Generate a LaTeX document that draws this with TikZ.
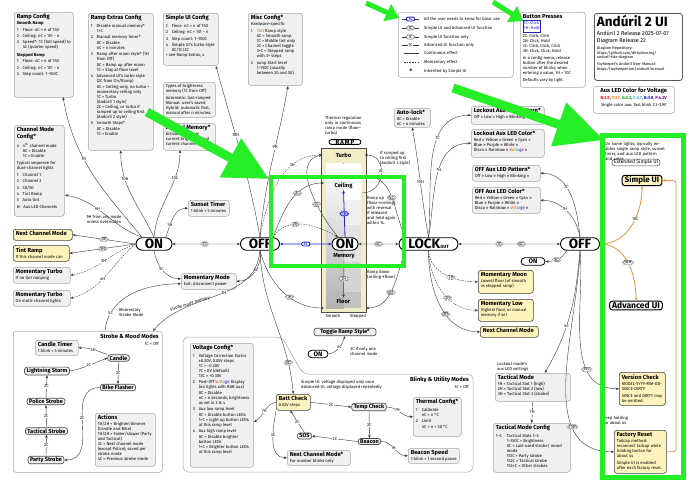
\documentclass[tikz,border=0pt]{standalone}
\usepackage{fontspec}
\setmainfont{Fira Sans}
\usetikzlibrary{arrows.meta,calc,shapes.misc}
\definecolor{ylw}{HTML}{FFF3BD}
\definecolor{gbg}{HTML}{F0F0F0}
\definecolor{gbd}{HTML}{A6A6A6}
\definecolor{grn}{HTML}{26EE26}
\definecolor{org}{HTML}{E8943A}
\definecolor{blu}{HTML}{2323C8}
\definecolor{lnc}{HTML}{3A3A3A}
\definecolor{pnl}{HTML}{F3EDC6}
\newcommand\xfs{\fontsize{4.2}{5}\selectfont}
\newcommand\xft{\fontsize{5.8}{6.8}\selectfont\bfseries}
\newcommand\xttl[1]{{\xft #1\par}\vspace{1pt}}
\newcommand\xitm[2]{\par\vspace{1.4pt}\hangindent=6pt\hangafter=1\noindent\makebox[6pt][l]{#1}#2\par}
\newcommand\xitmw[2]{\par\vspace{1.4pt}\hangindent=11pt\hangafter=1\noindent\makebox[11pt][l]{#1}#2\par}
\newcommand\xind[1]{\par\vspace{0.5pt}{\leftskip=6pt\noindent#1\par}}
\newcommand\xindw[1]{\par\vspace{0.5pt}{\leftskip=11pt\noindent#1\par}}
\newcommand\xbx[3]{\parbox[c][#2][t]{#1}{\raggedright\xfs #3}}
\newcommand\xrbw{{\color{red}V}{\color{orange}o}{\color{olive}l}{\color{green!55!black}t}{\color{cyan!70!black}a}{\color{blue}g}{\color{violet}e}}
\begin{document}
\begin{tikzpicture}[x=1pt,y=-1pt,font=\xfs]
\tikzset{
 box/.style={draw=gbd, fill=gbg, rounded corners=2.5pt, line width=0.5pt, inner xsep=2.5pt, inner ysep=2pt, align=left, anchor=north west, font=\xfs},
 wbox/.style={box, fill=white},
 ybox/.style={box, draw=black!75, fill=ylw, line width=0.6pt},
 gnode/.style={draw=black!70, fill=gbg, line width=0.7pt, rounded corners=2.5pt, inner xsep=2pt, inner ysep=1pt, font=\fontsize{5.6}{6}\selectfont\bfseries},
 state/.style={draw=black, line width=0.9pt, rounded rectangle, fill=white, font=\fontsize{13.5}{13.5}\selectfont\bfseries, inner xsep=3pt, inner ysep=0pt, minimum height=12.5pt},
 sstate/.style={draw=black, line width=0.8pt, rounded rectangle, fill=white, font=\fontsize{6.5}{7}\selectfont\bfseries, inner xsep=2pt, inner ysep=0pt, minimum height=7.5pt},
 lc/.style={draw=black!65, double=white, double distance=0.45pt, line width=0.3pt, rounded rectangle, fill=white, inner xsep=1pt, inner ysep=0.4pt, font=\xfs},
 ls/.style={draw=black!65, line width=0.4pt, rounded rectangle, fill=white, inner xsep=1.2pt, inner ysep=0.6pt, font=\xfs},
 lb/.style={draw=blu, line width=0.9pt, rounded rectangle, fill=white, text=blu, inner xsep=1.3pt, inner ysep=0.5pt, font=\xfs\bfseries},
 lt/.style={fill=white, inner sep=0.5pt, font=\xfs},
 arr/.style={-{Stealth[length=3.2pt,width=2.6pt]}, draw=lnc, line width=0.4pt},
 darr/.style={arr, {Stealth[length=3.2pt,width=2.6pt]}-{Stealth[length=3.2pt,width=2.6pt]}},
 dsh/.style={arr, dash pattern=on 1.6pt off 1.1pt},
 barr/.style={darr, draw=blu, line width=0.8pt},
 bsarr/.style={arr, draw=blu, line width=0.8pt},
 oarr/.style={arr, draw=org, line width=0.8pt},
 note/.style={anchor=north west, align=left, inner sep=0pt, font=\xfs},
}
\fill[white] (0,0) rectangle (690,488);
\path[use as bounding box] (0,0) rectangle (690,488);
% ================= config boxes =================
\node[box] (rampcfg) at (14,12) {\xbx{54pt}{81pt}{\xttl{Ramp Config}{\bfseries Smooth Ramp\par}\xitm{1}{Floor: nC = n of 150}\xitm{2}{Ceiling: nC = 151 − n}\xitm{3}{Speed*: 1C (full speed) to 4C (quarter speed)}\vspace{2.5pt}{\bfseries Stepped Ramp\par}\xitm{1}{Floor: nC = n of 150}\xitm{2}{Ceiling: nC = 151 − n}\xitm{3}{Step count: 1–150C}}};
\node[box] (rampext) at (88,13) {\xbx{60pt}{133pt}{\xttl{Ramp Extras Config}\xitm{1}{Disable manual memory*}\xind{1+C}\xitm{2}{Manual memory timer*}\xind{0C = Disable\\nC = n minutes}\xitm{3}{Ramp after moon style* (1H from Off)}\xind{0C = Ramp up after moon\\1C = Stay at floor level}\xitm{4}{Advanced UI's turbo style (2C from On/Ramp)}\xind{0C = Ceiling only, no turbo + momentary ceiling only\\1C = Turbo\\(Andúril 1 style)\\2C = Ceiling, or turbo if ramped up to ceiling first (Andúril 2 style)}\xitm{5}{Smooth Steps*}\xind{0C = Disable\\1C = Enable}}};
\node[box] (suicfg) at (163,13) {\xbx{50pt}{48pt}{\xttl{Simple UI Config}\xitm{1}{Floor: nC = n of 150}\xitm{2}{Ceiling: nC = 151 − n}\xitm{3}{Step count: 1–150C}\xitm{4}{Simple UI's turbo style 0C/1C/2C\\+ see Ramp Extras, 4}}};
\node[box] (misc) at (248,13) {\xbx{49pt}{68pt}{\xttl{Misc Config*}Hardware-specific\xitm{1}{{\color{orange!80!black}Tint} Ramp style}\xind{0C = Smooth ramp\\1C = Middle tint only\\2C = Channel toggle\\3+C = Stepped ramp with 3+ steps}\xitm{2}{Jump Start level}\xind{1–150C (usually between 20 and 50)}}};
\node[box] (types) at (163,82) {\xbx{47pt}{31pt}{Types of brightness memory (1C from Off)\par\vspace{1.5pt}Automatic: last-ramped\\Manual: user's saved\\Hybrid: automatic first, manual after n minutes.}};
\node[box] (manmem) at (163,123) {\xbx{47pt}{23pt}{\xttl{Manual Memory*}Activate and save current brightness and current channel mode}};
\node[box] (chancfg) at (14,125) {\xbx{45pt}{87pt}{\xttl{Channel Mode Config*}\xitm{n}{n\textsuperscript{th} channel mode}\xind{0C = Disable\\1C = Enable}\vspace{2pt}Typical sequence for dual-channel lights\xitm{1}{Channel 1}\xitm{2}{Channel 2}\xitm{3}{50/50}\xitm{4}{Tint Ramp}\xitm{5}{Auto tint}\xitm{6+}{\,Aux LED Channels}}};
% ================= legend / info =================
\node[wbox, minimum width=115pt, minimum height=65pt] (legend) at (398,12) {};
\draw[lnc, line width=0.4pt] (402,19) -- (419,19);
\node[lb] (lg1) at (410.5,19) {1C};
\node[anchor=west, inner sep=0] (lgt1) at (424,19) {All the user needs to know for basic use};
\draw[lnc, line width=0.4pt] (402,28) -- (419,28);
\node[lc] (lg2) at (410.5,28) {1C};
\node[anchor=west, inner sep=0] (lgt2) at (424,28) {Simple UI and Advanced UI function};
\draw[lnc, line width=0.4pt] (402,37) -- (419,37);
\node[ls] (lg3) at (410.5,37) {1C};
\node[anchor=west, inner sep=0] (lgt3) at (424,37) {Simple UI function only};
\draw[lnc, line width=0.4pt] (402,45) -- (419,45);
\node[lt] (lg4) at (410.5,45) {1C};
\node[anchor=west, inner sep=0] (lgt4) at (424,45) {Advanced UI function only};
\draw[lnc, line width=0.5pt] (404,53) -- (419,53);
\node[anchor=west, inner sep=0] (lgt5) at (424,53) {Continuous effect};
\draw[lnc, line width=0.5pt, dash pattern=on 1.6pt off 1.1pt] (404,62) -- (419,62);
\node[anchor=west, inner sep=0] (lgt6) at (424,62) {Momentary effect};
\node[font=\fontsize{6}{6}\selectfont\bfseries] (lg7) at (411,71.5) {*};
\node[anchor=west, inner sep=0] (lgt7) at (424,71) {Inherited by Simple UI};
\node[wbox] (btn) at (520,12) {\xbx{60pt}{71pt}{\xttl{Button Presses}{\setlength\fboxsep{0.6pt}\setlength\fboxrule{0.5pt}\fcolorbox{blu}{white}{\color{blu}\begin{tabular}{@{}l@{}}1C: Click\\1H: Hold\end{tabular}}\par}\vspace{0.3pt}2C: Click, Click\\2H: Click, Hold\\3C: Click, Click, Click\\3H: Click, Click, Hold\par\vspace{2pt}In a config menu, release button after the desired number of blinks; when entering a value, 1H = 10C\par\vspace{2pt}Defaults vary by light.}};
\node[wbox, draw=black!65, line width=0.8pt] (title) at (594,13) {\xbx{83pt}{63pt}{{\fontsize{13.5}{15}\selectfont\bfseries Andúril 2 UI\par}\vspace{2.5pt}{\fontsize{5.6}{6.6}\selectfont Andúril 2 Release 2025-07-07\\Diagram Release 22\par}\vspace{3pt}{\fontsize{3.9}{4.4}\selectfont Diagram Repository:\\https://github.com/dirtydancing/\\anduril-tikz-diagram\par\vspace{3pt}ToyKeeper's Andúril User Manual:\\https://toykeeper.net/anduril/manual\par}}};
\node[wbox] (auxv) at (593,86) {\xbx{76pt}{23pt}{\centering{\xft Aux LED Color for Voltage\par}\vspace{1.5pt}{\bfseries\color{red}R:2.9}, {\bfseries\color{orange!90!black}Y:3.1}, {\bfseries\color{green!60!black}G:3.3}, {\bfseries\color{cyan!80!black}C:3.7}, {\bfseries\color{blue}B:3.9}, {\bfseries\color{violet}P:4.2V}\par\vspace{2pt}Single color aux: fast blink 3.1–3.9V}};
% ================= right-top boxes =================
\node[box] (autolock) at (394,108) {\xbx{31pt}{15pt}{\xttl{Auto-lock*}0C = Disable\\nC = n minutes}};
\node[box] (lap) at (471,106) {\xbx{68pt}{14pt}{\xttl{Lockout Aux LED Pattern*}Off » Low » High » Blinking »}};
\node[box] (lac) at (471,129) {\xbx{68pt}{24pt}{\xttl{Lockout Aux LED Color*}Red » Yellow » Green » Cyan »\\Blue » Purple » White »\\Disco » Rainbow » \xrbw{} »}};
\node[box] (oap) at (472,165) {\xbx{63pt}{12pt}{\xttl{OFF Aux LED Pattern*}Off » Low » High » Blinking »}};
\node[box] (oac) at (472,187) {\xbx{63pt}{22pt}{\xttl{OFF Aux LED Color*}Red » Yellow » Green » Cyan »\\Blue » Purple » White »\\Disco » Rainbow » \xrbw{} »}};
% ================= left side boxes =================
\node[box] (sunset) at (188,200) {\xbx{36pt}{12pt}{\xttl{Sunset Timer}1 blink = 5 minutes}};
\node[box] (mommode) at (181,273) {\xbx{50pt}{12pt}{\xttl{Momentary Mode}Exit: disconnect power}};
\node[ybox] (ncm1) at (13,229) {\xbx{54pt}{7pt}{\xft Next Channel Mode}};
\node[ybox] (tint) at (13,245) {\xbx{51pt}{12pt}{\xttl{Tint Ramp}If this channel mode can}};
\node[box] (mt1) at (13,267) {\xbx{52pt}{12pt}{\xttl{Momentary Turbo}If no tint ramping}};
\node[box] (mt2) at (13,290) {\xbx{52pt}{12pt}{\xttl{Momentary Turbo}On multi-channel lights}};
\node[note, align=center, anchor=north] (n9h) at (104,215.5) {9H from any mode\\unless overridden};
% ================= strobe group =================
\node[wbox, minimum width=149pt, minimum height=141pt] (strobe) at (13,331) {};
\node[anchor=north east, font=\xft, inner sep=0] (strobet) at (159,334) {Strobe \& Mood Modes};
\node[anchor=north east, inner sep=0] (strobeoff) at (159,342) {1C = Off};
\node[box] (ctimer) at (35,340) {\xbx{38pt}{11pt}{\xttl{Candle Timer}1 blink = 5 minutes}};
\node[gnode] (candle) at (118.5,358) {Candle};
\node[gnode] (lightning) at (47,371) {Lightning Storm};
\node[gnode] (bike) at (118,387.5) {Bike Flasher};
\node[gnode] (police) at (46,401.5) {Police Strobe};
\node[gnode] (tacstr) at (46.5,431) {Tactical Strobe};
\node[gnode] (party) at (46,460) {Party Strobe};
\node[box] (actions) at (95,413) {\xbx{55pt}{49pt}{\xttl{Actions}1H/2H = Brighter/dimmer (Candle and Bike)\\1H/2H = Faster/slower (Party and Tactical)\\3C = Next channel mode (except Police), saved per strobe mode\\4C = Previous strobe mode}};
\draw[arr] (candle.north west) to[out=160,in=0] node[lt,pos=0.5]{5H} (ctimer.east);
\draw[arr] (lightning.east) to[out=10,in=200] node[lt,pos=0.5]{2C} (candle.west);
\draw[arr] (candle.south) -- node[lt]{2C} (bike.north);
\draw[arr] (bike.west) to[out=180,in=0,looseness=1.2] node[lt,pos=0.45]{2C} (party.east);
\draw[arr] (party.north) -- node[lt]{2C} (tacstr.south);
\draw[arr] (tacstr.north) -- node[lt]{2C} (police.south);
\draw[arr] (police.north) -- node[lt]{2C} (lightning.south);
% ================= blinky group =================
\draw[gbd, line width=0.5pt, fill=white, rounded corners=5pt] (183,337) -- (282,337) -- (303,374) -- (473,374) -- (473,472) -- (183,472) -- cycle;
\node[anchor=north east, font=\xft, inner sep=0] (blinkyt) at (469,377) {Blinky \& Utility Modes};
\node[anchor=north east, inner sep=0] (blinkyoff) at (469,385) {1C = Off};
\node[note] (vnote) at (301,380) {Simple UI: voltage displayed only once\\Advanced UI: voltage displayed repeatedly};
\node[box] (vcfg) at (190,343) {\xbx{58pt}{120pt}{\xttl{Voltage Config*}\xitm{1}{Voltage Correction Factor}\xind{±0.30V, 0.05V steps\\1C = −0.30V\\7C = 0V (default)\\13C = +0.30V}\xitm{2}{Post-Off \xrbw{} Display (on lights with RGB aux)}\xind{0C = Disable\\nC = n seconds; brightness as set in 3 \& 4}\xitm{3}{Aux low ramp level}\xind{0C = Disable button LEDs\\1+C = Light up button LEDs at this ramp level}\xitm{4}{Aux high ramp level}\xind{0C = Disable brighter button LEDs\\1+C = Brighter button LEDs at this ramp level}}};
\node[ybox] (batt) at (276,394) {\xbx{29pt}{12pt}{\xttl{Batt Check}0.02V steps}};
\node[box] (ncm3) at (287,450) {\xbx{58pt}{11pt}{\xttl{Next Channel Mode*}For number blinks only}};
\node[gnode] (sos) at (304.5,436) {SOS};
\node[gnode] (temp) at (369,407) {Temp Check};
\node[gnode] (beacon) at (369.5,441.5) {Beacon};
\node[box] (therm) at (413,397) {\xbx{43pt}{35pt}{\xttl{Thermal Config*}\xitm{1}{Calibrate}\xind{nC = n °C}\xitm{2}{Limit}\xind{nC = n + 30 °C}}};
\node[box] (bspeed) at (408,448) {\xbx{46pt}{11pt}{\xttl{Beacon Speed}1 blink = 1 second pause}};
\coordinate (cvc) at (254,422);
\draw[arr] (batt.west) to[out=190,in=30] node[lt,pos=0.5]{7H} (cvc);
\draw[arr] (batt.south west) to[out=-100,in=180] node[lt,pos=0.4]{3C} (ncm3.west);
\draw[arr] (sos.north) -- node[lt]{2C} ([xshift=-3pt]batt.south);
\draw[arr] (batt.east) -- node[lt]{2C} (temp.west);
\draw[arr] (temp.east) to[out=0,in=180] node[lt,pos=0.4]{7H} (therm.west);
\draw[arr] (temp.south) -- node[lt]{2C} (beacon.north);
\draw[arr] (beacon.west) -- node[lt]{2C} (sos.east);
\draw[arr] (beacon.east) to[out=0,in=180] node[lt,pos=0.45]{1H} (bspeed.west);
% ================= lockout side boxes =================
\node[ybox] (moon) at (478,270) {\xbx{50pt}{19pt}{\xttl{Momentary Moon}Lowest floor (of smooth vs stepped ramp)}};
\node[ybox] (low) at (478,299) {\xbx{50pt}{18pt}{\xttl{Momentary Low}Highest floor, or manual memory if set}};
\node[ybox] (ncm2) at (480,326) {\xbx{53pt}{7pt}{\xft Next Channel Mode}};
\node[note] (lmas) at (497,362) {Lockout mode's\\aux LED settings};
\node[box] (tact) at (495,373) {\xbx{70pt}{24pt}{\xttl{Tactical Mode}1H = Tactical Slot 1 (high)\\2H = Tactical Slot 2 (low)\\3H = Tactical Slot 3 (strobe)}};
\node[box] (tcfg) at (493,423) {\xbx{72pt}{45pt}{\xttl{Tactical Mode Config}\xitmw{1–3}{Tactical Slots 1–3}\xindw{1–150C = Brightness\\0C = Last-used strobe/ mood mode\\151C = Party strobe\\152C = Tactical strobe\\153+C = Other strobes}}};
\draw[arr] (tact.south) -- node[lt]{7H} (tcfg.north);
% ================= right column =================
\node[note, text width=60pt] (extnote) at (605,142) {On some lights; typically enables single ramp style, sunset timer, and aux LED pattern and color.};
\node[draw=black!70, line width=0.5pt, rounded corners=3pt, inner xsep=2pt, inner ysep=0.8pt, font=\fontsize{5}{5.5}\selectfont] (ext) at (636,162.5) {Extended Simple UI};
\node[draw=black, line width=1pt, fill=ylw, rounded corners=2.5pt, inner xsep=2.5pt, inner ysep=1pt, font=\fontsize{8}{9}\selectfont\bfseries] (sui) at (642,180.5) {Simple UI};
\node[draw=black, line width=1pt, fill=white, rounded corners=2.5pt, inner xsep=2.5pt, inner ysep=1pt, font=\fontsize{8.5}{9}\selectfont\bfseries] (adv) at (636,305.5) {Advanced UI};
\node[ybox] (ver) at (619,372) {\xbx{41pt}{29pt}{\xttl{Version Check}MODEL-YYYY-MM-DD-SINCE-DIRTY\par\vspace{2pt}SINCE and DIRTY may be omitted.}};
\node[ybox] (fac) at (614,430) {\xbx{47pt}{39pt}{\xttl{Factory Reset}Tailcap method: reconnect tailcap while holding button for about 4s\par\vspace{2pt}Simple UI is enabled after each factory reset.}};
\node[note] (khold) at (603,416) {keep holding\\for about 4s};
% ================= ramp panel =================
\node[note, text width=42pt] (thermal) at (325,116) {Thermal regulation only in continuous ramp mode (floor–turbo)};
\node[draw=black, line width=0.9pt, rounded rectangle, inner xsep=3pt, inner ysep=0.3pt, minimum width=38pt, font=\fontsize{6}{6}\selectfont\bfseries] (ramp) at (345,142) {R\,A\,M\,P};
\node[draw=black!70, fill=pnl, line width=0.6pt, minimum width=45pt, minimum height=164pt, anchor=north west, inner sep=0pt] (panel) at (321,148) {};
\fill[top color=white, bottom color=gray!60] (326,163) rectangle (343.5,308);
\fill[white] (343.5,163) rectangle (361,200);
\fill[gray!12] (343.5,200) rectangle (361,225);
\fill[gray!22] (343.5,225) rectangle (361,262);
\fill[gray!34] (343.5,262) rectangle (361,292);
\fill[gray!48] (343.5,292) rectangle (361,308);
\node[font=\xft, minimum width=42pt, inner sep=1pt] (turbo) at (343.5,155) {Turbo};
\node[font=\xft, inner sep=1pt] (ceil) at (343.5,186) {Ceiling};
\node[font=\xft, inner sep=1pt] (mem) at (344,256) {Memory};
\node[font=\xft, inner sep=1pt] (floor) at (343.5,301) {Floor};
\node[inner sep=0] (lsm) at (333,316) {Smooth};
\node[inner sep=0] (lst) at (358,316) {Stepped};
\node[gnode, minimum width=62pt] (toggle) at (345,332) {Toggle Ramp Style*};
\node[sstate, minimum width=24pt] (on4) at (318,354) {ON};
\node[note] (n3c) at (350,347) {3C if only one\\channel mode};
\draw[arr] (on4.east) to[out=10,in=-110] node[lt,pos=0.55]{6C} (toggle.south);
% ================= main states =================
\node[state, minimum width=42pt] (on1) at (154,244) {ON};
\node[state, minimum width=45pt] (off1) at (260,244) {OFF};
\node[state, minimum width=32pt] (on2) at (345,244) {ON};
\node[state, minimum width=65pt] (lock) at (428.5,244) {LOCK{\fontsize{4.5}{5}\selectfont OUT}};
\node[state, minimum width=45pt] (off2) at (580,244) {OFF};
\node[sstate, minimum width=28pt] (on3) at (533,261.5) {ON};
\draw[bsarr] (on2.north) -- node[lb]{1H} (ceil.south);
\draw[arr] (mem.south) -- node[ls]{2H} (floor.north);
\draw[darr] (on1) -- node[lc,pos=0.48]{1C} (off1);
\draw[barr] (off1) -- node[lb]{1C} (on2);
\draw[darr] (on2) -- node[lc]{4C} (lock);
\draw[darr] (lock) -- node[lc,pos=0.4]{1C} node[lc,pos=0.62]{4C} (off2);
% ---- from ON (left)
\coordinate (c7h) at (63,97);
\coordinate (c10c) at (180,150);
\coordinate (c9h) at (65,195);
\draw[arr] (on1.north west) to[out=130,in=-80] node[lt,pos=0.6]{7H} (c7h);
\draw[arr] (on1.north) to[out=115,in=-90] node[lt,pos=0.7]{10H} (rampext.south);
\draw[arr] (on1.north) to[out=85,in=-90] node[lt,pos=0.7]{10C} (c10c);
\draw[arr] (on1.north east) to[out=70,in=180] node[lt,pos=0.3]{5H} (sunset.west);
\draw[arr] (on1.north west) to[out=160,in=-10] node[lt,pos=0.6]{9H} (c9h);
\draw[arr] (on1.west) -- node[lc,pos=0.5]{3C} (ncm1.east);
\draw[arr] (on1.west) -- node[lc,pos=0.5]{3H} (tint.east);
\draw[dsh] (on1.west) to[out=200,in=10] node[lt,pos=0.5]{3H} (mt1.east);
\draw[dsh] (on1.west) to[out=220,in=15] node[lt,pos=0.55]{4H} (mt2.east);
\draw[arr] (on1.south) to[out=-80,in=180] node[lt,pos=0.45]{5C} ([yshift=2.5pt]mommode.west);
\coordinate (cst5) at (105,331);
\draw[arr] (cst5) to[out=85,in=180] node[lt,pos=0.2]{5C} ([yshift=-2.5pt]mommode.west);
\node[note] (msm) at (119,308) {Momentary\\Strobe Mode};
% ---- from OFF (left)
\coordinate (c10h) at (216,66);
\coordinate (c9hm) at (288,86);
\coordinate (ceilL) at (324,183);
\coordinate (floorL) at (324,308);
\coordinate (cstr) at (153,331);
\draw[arr] (off1.north) to[out=100,in=-75] node[lt,pos=0.6]{10H} (c10h);
\draw[arr] (off1.north) to[out=85,in=-100] node[lt,pos=0.6]{9H} (c9hm);
\draw[dsh] (off1.north) to[out=80,in=180] node[lt,pos=0.7]{3H} (turbo.west);
\draw[arr] (off1.north east) to[out=70,in=180] node[lc,pos=0.62]{2C} (ceilL);
\draw[dsh] (off1.north east) to[out=60,in=150] node[lc,pos=0.4]{2H} (on2.north west);
\draw[arr] (on2.north west) to[out=130,in=190] node[lc,pos=0.35]{2C} (turbo.west);
\draw[arr] (off1.south) to[out=-80,in=0] node[lt,pos=0.45]{5C} (mommode.east);
\draw[arr] (off1.south) to[out=-95,in=50] node[lt,pos=0.45]{3H} (cstr);
\node[rotate=17, inner sep=0] (smm) at (190,304) {Strobe mode memory};
\draw[arr] (off1.south) to[out=-88,in=95] node[lc,pos=0.8]{3C} (batt.north);
\draw[arr] (off1.south) to[out=-75,in=180] node[lc,pos=0.6]{1H} (floorL);
% ---- ramp notes
\coordinate (c2cs) at (362,193);
\draw[arr] (c2cs) to[out=0,in=0,looseness=1.6] node[lt,pos=0.55]{2C} (turbo.east);
\node[note] (n2c) at (380,151) {If ramped up\\to ceiling first\\(Andúril 2 style)};
\node[note] (nup) at (367,196) {Ramp up\\(floor→ceiling),\\with reversal\\if released\\and held again\\within 1s.};
\node[note] (ndown) at (367,270) {Ramp down\\(ceiling→floor)};
% ---- from LOCK
\coordinate (ceilR) at (366,177);
\coordinate (floorR) at (366,308);
\draw[arr] (lock.north west) to[out=115,in=0] node[lc,pos=0.5]{5C} (ceilR);
\draw[arr] (lock.south west) to[out=-110,in=0] node[lc,pos=0.55]{4H} (floorR);
\draw[arr] (lock.north) to[out=100,in=-80] node[lt,pos=0.5]{10H} (autolock.south);
\draw[arr] (lock.north) to[out=85,in=180] node[lt,pos=0.65]{7C} (lap.west);
\draw[arr] (lock.north) to[out=80,in=180] node[lt,pos=0.55]{7H} (lac.west);
\draw[dsh] (lock.south) to[out=-85,in=180] node[lc,pos=0.6]{1H} (moon.west);
\draw[dsh] (lock.south) to[out=-88,in=180] node[lc,pos=0.6]{2H} (low.west);
\draw[arr] (lock.south) to[out=-90,in=180] node[lc,pos=0.6]{3H} (ncm2.west);
% ---- from OFF (right)
\draw[arr] (off2.north) to[out=95,in=0] node[lt,pos=0.6]{7C} (oap.east);
\draw[arr] (off2.north) to[out=100,in=0] node[lt,pos=0.55]{7H} (oac.east);
\draw[arr] (off2.south west) to[out=-120,in=0] node[lc,pos=0.55]{1C} (on3.east);
\draw[arr] (off2.south) to[out=-95,in=60] node[lt,pos=0.6]{6C} ([xshift=12pt]tact.north);
\draw[arr] (off2.south) to[out=-85,in=180] node[lc,pos=0.7]{15C} (ver.west);
\draw[arr] (off2.south) to[out=-92,in=180] node[lc,pos=0.72]{13H} (fac.west);
\draw[oarr] (off2.east) to[out=0,in=-90] node[lt,pos=0.6]{10C} (sui.south);
\draw[oarr] (off2.east) to[out=0,in=90] node[lc,pos=0.5]{10H} (adv.north);
\coordinate (corX) at (676,0);
\draw[oarr, rounded corners=3pt] (fac.east) -- (fac.east -| corX) -- (sui.east -| corX) -- (sui.east);
% ================= green annotations =================
\draw[grn, line width=4.5pt] (271,177) rectangle (404,266);
\draw[grn, line width=5pt] (602,135) rectangle (683,477);
\draw[grn, line width=5pt, -{Triangle[length=13pt,width=18pt]}] (366,3) -- (399,18);
\draw[grn, line width=5pt, -{Triangle[length=13pt,width=18pt]}] (493,2) -- (523,21);
\draw[grn, line width=9pt, -{Triangle[length=48pt,width=44pt]}] (453,88) -- (604,140);
\draw[grn, line width=9pt, -{Triangle[length=44pt,width=42pt]}] (147,112) -- (269,179);
\end{tikzpicture}
\end{document}
